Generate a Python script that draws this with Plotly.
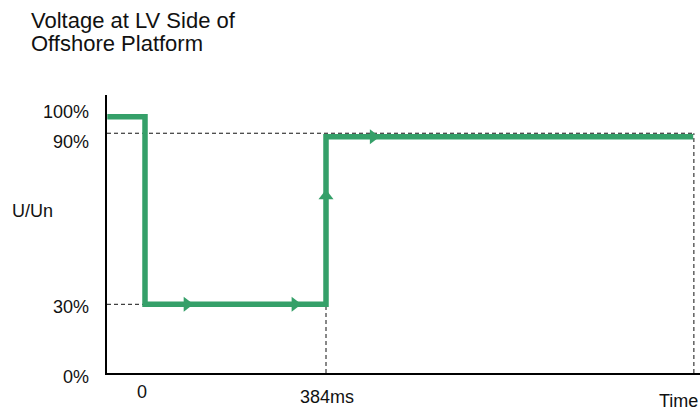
import numpy as np
import plotly.graph_objects as go

# ---------------- data ----------------
title_lines = ["Voltage at LV Side of", "Offshore Platform"]
y_label = "U/Un"
x_label = "Time"

# voltage profile (time in ms, voltage in % of Un)
t_points = [-80, 0, 0, 384, 384, 1163]
u_points = [100, 100, 30, 30, 90, 90]

# tick labels
y_tick_levels = [100, 90, 30, 0]
y_tick_text = ["100%", "90%", "30%", "0%"]
x_tick_vals = [0, 384]
x_tick_text = ["0", "384ms"]

# direction arrows along the profile: (time ms, voltage %, symbol)
arrow_t = [89, 318, 384, 484]
arrow_u = [30, 30, 68, 90]
arrow_sym = ["triangle-right", "triangle-right", "triangle-up", "triangle-right"]

# ---------------- schematic geometry ----------------
W, H = 700, 415
L, R, T, B = 107, 0, 95, 42
PW, PH = W - L - R, H - T - B
KX = 181 / 384          # px per ms
X0 = -38 / KX           # left edge of plot (ms)
X1 = X0 + PW / KX
KY = 2.29               # px per display unit
Y1 = PH / KY

# schematic (not-to-scale) vertical placement of voltage levels
LEVEL_PCT = [0, 30, 90, 100]
LEVEL_DISP = [0, 30, 104.7, 111.9]


def ydisp(u):
    return np.interp(u, LEVEL_PCT, LEVEL_DISP)


GREEN = "#35a069"
FONT = "Liberation Sans, Arial, sans-serif"

fig = go.Figure()

# dashed helper lines
dash_style = dict(color="#111111", width=1, dash="4px,3px")
y90 = float(ydisp(90))
y30 = float(ydisp(30))
t_end = t_points[-1]
fig.add_trace(go.Scatter(x=[X0, t_end], y=[y90, y90], mode="lines", line=dash_style,
                         hoverinfo="skip", showlegend=False))
fig.add_trace(go.Scatter(x=[X0, 0], y=[y30, y30], mode="lines", line=dash_style,
                         hoverinfo="skip", showlegend=False))
fig.add_trace(go.Scatter(x=[384, 384], y=[0, y30], mode="lines", line=dash_style,
                         hoverinfo="skip", showlegend=False))
fig.add_trace(go.Scatter(x=[t_end + 1.5, t_end + 1.5], y=[0, y90], mode="lines", line=dash_style,
                         hoverinfo="skip", showlegend=False))

# voltage profile (upper 90% segment drawn just beneath the dashed line)
y_line = [float(ydisp(u)) for u in u_points]
y_line[-2] -= 1.5
y_line[-1] -= 1.5
fig.add_trace(go.Scatter(x=t_points, y=y_line, mode="lines",
                         line=dict(color=GREEN, width=5.5),
                         hoverinfo="skip", showlegend=False, cliponaxis=False))

# arrows
ay = [float(ydisp(u)) for u in arrow_u]
ay[-1] -= 1.5
fig.add_trace(go.Scatter(x=arrow_t, y=ay, mode="markers",
                         marker=dict(symbol=arrow_sym, size=13, color=GREEN),
                         hoverinfo="skip", showlegend=False, cliponaxis=False))


def px_to_paper_x(px):
    return (px - L) / PW


def px_to_paper_y(py):
    return (H - B - py) / PH


annotations = []
txt = dict(family=FONT, size=18, color="#111111")

# y tick labels (right edge ~88px), small vertical nudges in px
y_label_nudge = [-4.5, 8.5, 2.5, 3.5]
for lvl, lab, nd in zip(y_tick_levels, y_tick_text, y_label_nudge):
    py = H - B - float(ydisp(lvl)) * KY + nd
    annotations.append(dict(x=px_to_paper_x(89), y=px_to_paper_y(py), xref="paper", yref="paper",
                            text=lab, showarrow=False, xanchor="right", yanchor="middle",
                            font=txt, borderpad=0, borderwidth=0))

# x tick labels
x_label_py = [392, 396.5]
x_label_dx = [-3.5, 1]
for v, lab, py, dx in zip(x_tick_vals, x_tick_text, x_label_py, x_label_dx):
    px = L + (v - X0) * KX + dx
    annotations.append(dict(x=px_to_paper_x(px), y=px_to_paper_y(py), xref="paper", yref="paper",
                            text=lab, showarrow=False, xanchor="center", yanchor="middle",
                            font=txt, borderpad=0, borderwidth=0))

# axis names
annotations.append(dict(x=px_to_paper_x(12), y=px_to_paper_y(210.5), xref="paper", yref="paper",
                        text=y_label, showarrow=False, xanchor="left", yanchor="middle",
                        font=txt, borderpad=0, borderwidth=0))
annotations.append(dict(x=px_to_paper_x(698), y=px_to_paper_y(401), xref="paper", yref="paper",
                        text=x_label, showarrow=False, xanchor="right", yanchor="middle",
                        font=txt, borderpad=0, borderwidth=0))

# title (two tightly spaced lines)
title_font = dict(family=FONT, size=22, color="#111111")
for line, py in zip(title_lines, [20.5, 43.5]):
    annotations.append(dict(x=px_to_paper_x(31), y=px_to_paper_y(py), xref="paper", yref="paper",
                            text=line, showarrow=False, xanchor="left", yanchor="middle",
                            font=title_font, borderpad=0, borderwidth=0))

fig.update_layout(
    width=W, height=H,
    margin=dict(l=L, r=R, t=T, b=B, pad=0),
    paper_bgcolor="white", plot_bgcolor="white",
    annotations=annotations,
    showlegend=False,
)
fig.update_xaxes(range=[X0, X1], showgrid=False, zeroline=False, showticklabels=False,
                 showline=True, linecolor="black", linewidth=1.5, ticks="", fixedrange=True)
fig.update_yaxes(range=[0, Y1], showgrid=False, zeroline=False, showticklabels=False,
                 showline=True, linecolor="black", linewidth=1.5, ticks="", fixedrange=True)

fig.write_html("out.html", config={"displayModeBar": False},
               post_script="document.body.style.margin='0';document.body.style.overflow='hidden';")
